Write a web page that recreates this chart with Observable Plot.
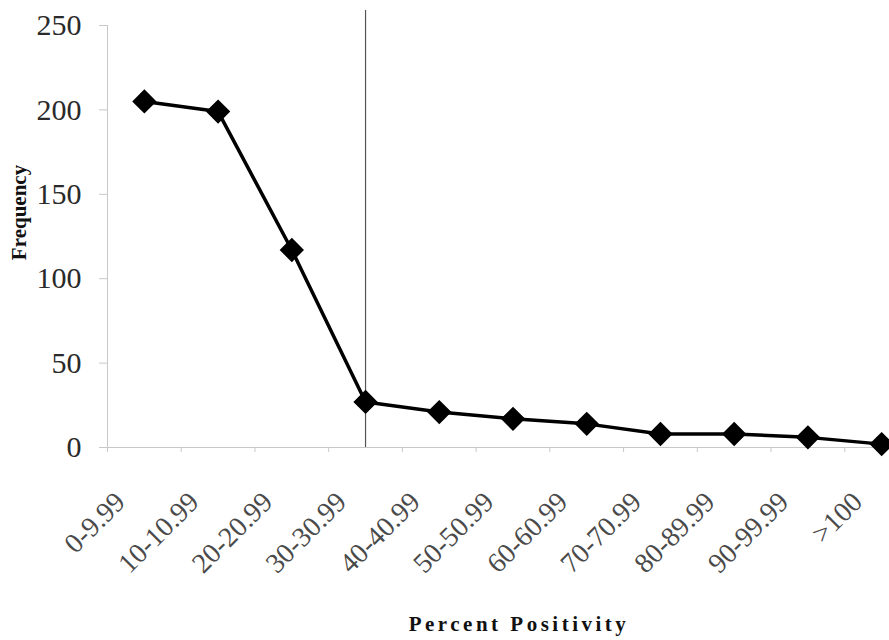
<!DOCTYPE html>
<html>
<head>
<meta charset="utf-8">
<script src="https://cdn.jsdelivr.net/npm/d3@7"></script>
<script src="https://cdn.jsdelivr.net/npm/@observablehq/plot@0.6"></script>
<style>
  html, body { margin: 0; padding: 0; background: #fff; overflow: hidden; }
  #chart { width: 889px; height: 640px; }
  #chart svg text { font-family: "Liberation Serif", "Times New Roman", serif; }
</style>
</head>
<body>
<div id="chart"></div>
<script>
// ---- data ----
const categories = ["0-9.99", "10-10.99", "20-20.99", "30-30.99", "40-40.99", "50-50.99",
  "60-60.99", "70-70.99", "80-89.99", "90-99.99", ">100"];
const frequency = [205, 199, 117, 27, 21, 17, 14, 8, 8, 6, 2];
const yTicks = [0, 50, 100, 150, 200, 250];
const cutoffCategory = "30-30.99";
const xTitle = "Percent Positivity";
const yTitle = "Frequency";

const rows = categories.map((c, i) => ({i, c, v: frequency[i]}));
const idx = categories.indexOf(cutoffCategory);
const boundaries = d3.range(-0.5, categories.length, 1);
const serif = "'Liberation Serif', 'Times New Roman', serif";

const svg = Plot.plot({
  width: 889,
  height: 640,
  marginLeft: 107,
  marginTop: 25,
  marginBottom: 193,
  marginRight: -29,
  style: {fontFamily: serif, background: "#fff"},
  x: {domain: [-0.5, categories.length - 0.5], axis: null},
  y: {domain: [0, 250], axis: null},
  marks: [
    // axis lines
    Plot.ruleX([-0.5], {stroke: "#c8c8c8", strokeWidth: 1}),
    Plot.ruleY([0], {stroke: "#c8c8c8", strokeWidth: 1}),
    // y axis
    Plot.axisY({ticks: yTicks, tickSize: 8, tickPadding: 18, stroke: "#c8c8c8",
      fill: "#2a2a2a", fontSize: 30, fontFamily: serif, label: null}),
    // x boundary ticks
    Plot.axisX({ticks: boundaries, tickSize: 5, tickFormat: () => "", stroke: "#c8c8c8", label: null}),
    // x tick labels
    Plot.axisX({ticks: d3.range(categories.length), tickSize: 0, tickFormat: i => categories[i],
      tickRotate: -45, fontSize: 28, fontFamily: serif, fill: "#4a4a4a", dx: -24, dy: 38, label: null}),
    // cutoff line
    Plot.ruleX([idx], {stroke: "#555", strokeWidth: 1.2, insetTop: -15}),
    // series
    Plot.line(rows, {x: "i", y: "v", stroke: "#000", strokeWidth: 3.5}),
    Plot.dot(rows, {x: "i", y: "v", symbol: "diamond2", r: 10, fill: "#000", stroke: "#000"}),
    // titles
    Plot.text([yTitle], {frameAnchor: "left", textAnchor: "middle", lineAnchor: "middle",
      rotate: -90, dx: -88, dy: -24,
      fontSize: 21, fontWeight: "bold", fontFamily: serif, fill: "#111"}),
    Plot.text([xTitle], {frameAnchor: "bottom", textAnchor: "middle", lineAnchor: "middle",
      dx: 6, dy: 177,
      fontSize: 21, fontWeight: "bold", fontFamily: serif, fill: "#111"})
  ]
});
d3.select(svg).selectAll("text").filter(function() { return this.textContent === xTitle; })
  .style("letter-spacing", "3.5px");
document.getElementById("chart").appendChild(svg);
</script>
</body>
</html>
